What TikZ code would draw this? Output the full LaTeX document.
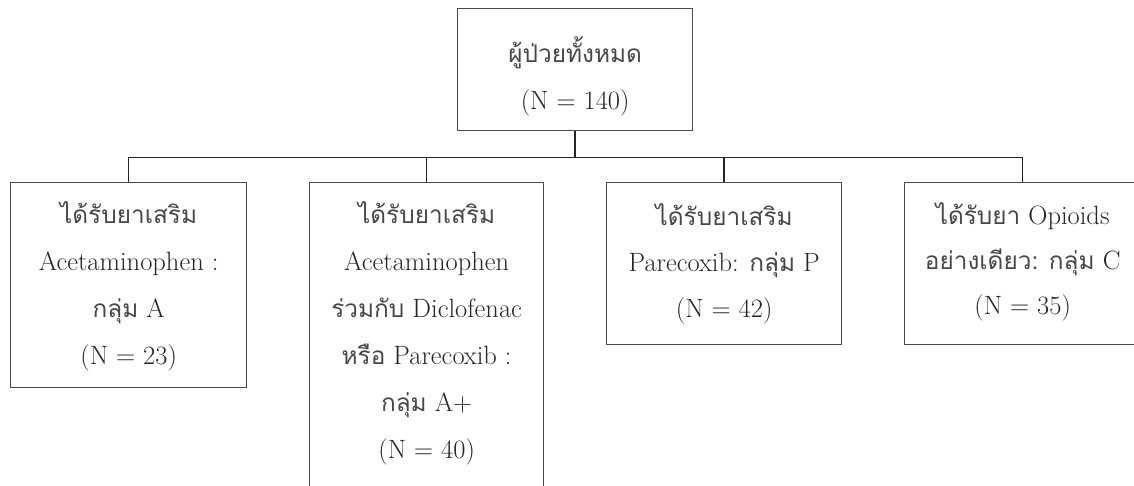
\documentclass[tikz,border=0pt]{standalone}
\usepackage{fontspec}
\newfontfamily\thaifont[Script=Thai,Scale=0.92]{Loma}
\newcommand\tht[1]{{\thaifont\color{black!72}#1}}
\begin{document}
\begin{tikzpicture}[x=1pt,y=-1pt,
  box/.style={draw=black!70, line width=1.3pt, rectangle, inner sep=0pt, anchor=north west},
  txt/.style={anchor=north, inner sep=0pt, align=center, font=\fontsize{26.5}{47}\selectfont, text=black!85},
  conn/.style={draw=black!85, line width=1.4pt}]
\useasboundingbox (0,0) rectangle (1134,486);
\clip (0,0) rectangle (1134,486);
\def\st{\rule{0pt}{30pt}}
% boxes
\node[box, minimum width=235pt, minimum height=122pt] (top) at (457,8) {};
\node[box, minimum width=236pt, minimum height=205pt] (b1) at (10,182) {};
\node[box, minimum width=234pt, minimum height=330pt] (b2) at (309,182) {};
\node[box, minimum width=235pt, minimum height=162pt] (b3) at (606,182) {};
\node[box, minimum width=236pt, minimum height=162pt] (b4) at (904,182) {};
% texts
\node[txt] (t0) at ([yshift=-24pt]top.north) {\st\tht{ผู้ป่วยทั้งหมด}\\(N = 140)};
\node[txt] (t1) at ([yshift=-11pt]b1.north) {\st\tht{ได้รับยาเสริม}\\Acetaminophen :\\\tht{กลุ่ม} A\\(N = 23)};
\node[txt] (t2) at ([yshift=-11pt]b2.north) {\st\tht{ได้รับยาเสริม}\\Acetaminophen\\\tht{ร่วมกับ} Diclofenac\\\tht{หรือ} Parecoxib :\\\tht{กลุ่ม} A+\\(N = 40)};
\node[txt, font=\fontsize{26.5}{46}\selectfont] (t3) at ([yshift=-13pt]b3.north) {\st\tht{ได้รับยาเสริม}\\Parecoxib: \tht{กลุ่ม} P\\(N = 42)};
\node[txt, font=\fontsize{26.5}{45}\selectfont] (t4) at ([yshift=-12pt]b4.north) {\st\tht{ได้รับยา} Opioids\\\tht{อย่างเดียว:} \tht{กลุ่ม} C\\(N = 35)};
% connectors
\draw[conn] (top.south) -- ++(0,26) coordinate (bar);
\draw[conn] (b1.north) -- (b1.north |- bar) -- (b4.north |- bar) -- (b4.north);
\draw[conn] (b2.north) -- (b2.north |- bar);
\draw[conn] (b3.north) -- (b3.north |- bar);
\end{tikzpicture}
\end{document}
